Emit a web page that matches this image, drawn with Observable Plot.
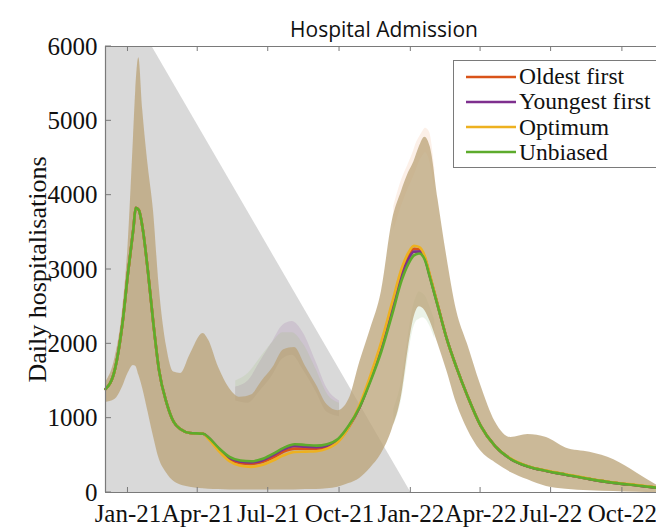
<!DOCTYPE html>
<html>
<head>
<meta charset="utf-8">
<script src="https://cdn.jsdelivr.net/npm/d3@7"></script>
<script src="https://cdn.jsdelivr.net/npm/@observablehq/plot@0.6"></script>
<style>
  html, body { margin: 0; padding: 0; background: #fff; overflow: hidden; }
  #wrap { position: relative; width: 656px; height: 530px; }
  #title { position: absolute; left: 234px; width: 300px; top: 15px; text-align: center;
           font-family: "Open Sans", sans-serif; font-size: 21px; color: #111; }
  #legend { position: absolute; left: 453px; top: 60px; width: 215px; height: 108px;
            border: 1px solid #7a7a7a; background: #fff; box-sizing: border-box; }
  .row { position: absolute; left: 12px; height: 25px; display: flex; align-items: center;
         font-family: "Liberation Serif", "Times New Roman", serif; font-size: 23.5px; color: #111; white-space: nowrap; }
  .row svg { margin-right: 3px; }
</style>
</head>
<body>
<div id="wrap">
  <div id="chart"></div>
  <div id="title">Hospital Admission</div>
  <div id="legend"></div>
</div>
<script>
// ---- data ----
const dates = ["2020-12-03","2020-12-15","2020-12-25","2021-01-01","2021-01-08","2021-01-11","2021-01-15","2021-01-20","2021-01-27",
  "2021-02-03","2021-02-10","2021-02-20","2021-03-01","2021-03-10","2021-03-22","2021-04-08","2021-04-15","2021-04-28",
  "2021-05-12","2021-05-26","2021-06-09","2021-06-23","2021-07-07","2021-07-21","2021-08-04","2021-08-18","2021-09-01",
  "2021-09-15","2021-09-29","2021-10-13","2021-10-27","2021-11-10","2021-11-24","2021-12-08","2021-12-20","2021-12-29",
  "2022-01-05","2022-01-12","2022-01-19","2022-01-26","2022-02-05","2022-02-16","2022-03-01","2022-03-15","2022-04-01",
  "2022-04-20","2022-05-10","2022-06-01","2022-06-25","2022-07-20","2022-08-20","2022-09-20","2022-10-20","2022-11-14"];

const unbiased = [1390,1650,2280,2950,3550,3830,3800,3550,2950,
  2250,1650,1200,950,850,800,790,740,600,
  480,430,420,450,520,600,650,640,630,
  650,720,900,1150,1500,1900,2400,2850,3080,
  3190,3215,3130,2880,2500,2080,1680,1300,900,
  620,450,350,290,240,180,130,95,65];

const oldestFirst = [1390,1650,2280,2950,3550,3830,3800,3550,2950,
  2250,1650,1200,950,850,800,790,735,580,
  450,395,385,410,470,550,590,590,590,
  610,690,880,1150,1530,1970,2500,2960,3180,
  3280,3270,3160,2900,2510,2080,1680,1300,900,
  620,450,350,290,240,180,130,95,65];

const youngestFirst = [1390,1650,2280,2950,3550,3830,3800,3550,2950,
  2250,1650,1200,950,850,800,790,738,590,
  465,415,405,430,500,580,625,615,610,
  630,705,890,1150,1520,1940,2460,2920,3140,
  3240,3240,3150,2890,2505,2080,1680,1300,900,
  620,450,350,290,240,180,130,95,65];

const optimum = [1390,1650,2280,2950,3550,3830,3800,3550,2950,
  2250,1650,1200,950,850,800,790,720,560,
  420,360,345,370,430,500,545,550,555,
  590,680,880,1180,1580,2030,2560,3010,3230,
  3320,3300,3180,2910,2510,2080,1680,1300,900,
  620,455,355,295,245,185,135,100,70];

const bandLow = [1210,1250,1420,1600,1710,1700,1580,1400,1080,
  750,460,260,150,100,70,50,45,40,
  35,35,35,35,35,35,35,40,40,
  50,70,120,190,330,520,850,1300,1950,
  2350,2500,2450,2300,2000,1650,1200,850,560,
  400,270,170,80,45,25,15,5,0];

const bandHigh = [1480,1800,2450,3300,4750,5400,5850,5150,4400,
  3780,2800,1950,1620,1600,1850,2140,2050,1680,
  1400,1280,1310,1500,1680,1920,1950,1700,1450,
  1180,1100,1250,1750,2200,2700,3650,4050,4300,
  4450,4650,4780,4650,3950,3200,2450,2000,1450,
  950,740,780,740,600,540,440,260,100];

// faint spread of individual strategies beyond the common band
const summerDates = ["2021-05-20","2021-06-05","2021-06-20","2021-07-05","2021-07-20","2021-08-01","2021-08-15","2021-09-01","2021-09-15","2021-10-01"];
const summerYoungestHigh = [1420,1500,1750,2000,2250,2300,2150,1750,1400,1230];
const summerUnbiasedHigh = [1500,1600,1800,2000,2150,2150,2000,1650,1330,1200];
const summerInner = [1230,1200,1360,1550,1800,1845,1650,1350,1080,1020];

const winterDates = ["2021-12-10","2021-12-20","2021-12-28","2022-01-03","2022-01-08","2022-01-12","2022-01-16","2022-01-20","2022-01-25","2022-02-01"];
const winterOptimumHigh = [3850,4200,4400,4550,4700,4780,4850,4900,4850,4350];
const winterInnerHigh = [3520,3850,4070,4210,4340,4450,4520,4570,4470,4050];
const winterUnbiasedLow = [900,1250,1780,2150,2300,2330,2350,2330,2250,2070];
const winterInnerLow = [1125,1500,2060,2450,2630,2700,2680,2640,2520,2320];

// grey shaded region
const shadeDates = ["2020-12-03","2021-02-01","2022-01-01"];
const shadeTop = [6000,6000,0];

const xTicks = ["2021-01-01","2021-04-01","2021-07-01","2021-10-01","2022-01-01","2022-04-01","2022-07-01","2022-10-01"];
const yTicks = [0,1000,2000,3000,4000,5000,6000];
const xDomain = ["2020-12-03","2022-11-14"];
const yDomain = [0,6000];

const seriesNames = ["Oldest first","Youngest first","Optimum","Unbiased"];
const seriesColors = ["#D95319","#7E2F8E","#EDB120","#5DAB2C"];
const seriesValues = [oldestFirst, youngestFirst, optimum, unbiased];

// ---- build tables ----
const P = d => new Date(d + "T00:00:00Z");
const band = dates.map((d,i) => ({date: P(d), lo: bandLow[i], hi: bandHigh[i]}));
const shade = shadeDates.map((d,i) => ({date: P(d), y: shadeTop[i]}));
const summer = summerDates.map((d,i) => ({date: P(d), base: summerInner[i], yh: summerYoungestHigh[i], uh: summerUnbiasedHigh[i]}));
const winter = winterDates.map((d,i) => ({date: P(d), bh: winterInnerHigh[i], oh: winterOptimumHigh[i], bl: winterInnerLow[i], ul: winterUnbiasedLow[i]}));
const lines = [];
seriesNames.forEach((name, s) => dates.forEach((d,i) => lines.push({series: name, date: P(d), value: seriesValues[s][i]})));
const xT = xTicks.map(P);
const x0 = P(xDomain[0]), x1 = P(xDomain[1]);
const fmt = d3.utcFormat("%b-%y");
const axisColor = "#7a7a7a";

const chart = Plot.plot({
  width: 656, height: 530,
  marginTop: 46, marginBottom: 38, marginLeft: 105, marginRight: 0,
  x: {type: "utc", domain: [x0, x1]},
  y: {type: "linear", domain: yDomain},
  color: {domain: seriesNames, range: seriesColors},
  style: {fontFamily: "Liberation Serif, serif", background: "#fff", color: "#111"},
  marks: [
    Plot.areaY(shade, {x: "date", y1: 0, y2: "y", fill: "#d9d9d9", curve: "linear"}),
    Plot.areaY(summer, {x: "date", y1: "base", y2: "yh", fill: "#7E2F8E", fillOpacity: 0.12, curve: "monotone-x"}),
    Plot.areaY(summer, {x: "date", y1: "base", y2: "uh", fill: "#77AC30", fillOpacity: 0.1, curve: "monotone-x"}),
    Plot.areaY(winter, {x: "date", y1: "bh", y2: "oh", fill: "#F2B48A", fillOpacity: 0.2, curve: "monotone-x"}),
    Plot.areaY(winter, {x: "date", y1: "ul", y2: "bl", fill: "#8FBF80", fillOpacity: 0.18, curve: "monotone-x"}),
    Plot.areaY(band, {x: "date", y1: "lo", y2: "hi", fill: "#baa378", fillOpacity: 0.76, curve: "monotone-x"}),
    Plot.line(lines, {x: "date", y: "value", z: "series", stroke: "series", strokeWidth: 2.6, curve: "monotone-x"}),
    // box lines
    Plot.ruleX([x0], {stroke: axisColor, strokeWidth: 1.2}),
    Plot.ruleY([yDomain[0], yDomain[1]], {stroke: axisColor, strokeWidth: 1.2}),
    Plot.axisX({ticks: xT, tickFormat: fmt, tickSize: 0, tickPadding: 12, fontSize: 25, label: null}),
    Plot.axisY({ticks: yTicks, tickFormat: d3.format("d"), tickSize: 0, tickPadding: 8, fontSize: 25, label: null}),
    Plot.text(["Daily hospitalisations"], {frameAnchor: "left", textAnchor: "middle", rotate: -90, dx: -68, text: d => d, fontSize: 26, fill: "#111"})
  ]
});
document.getElementById("chart").appendChild(chart);

// short inward tick marks, positioned through the chart's own scales
const sx = chart.scale("x"), sy = chart.scale("y");
const svg = d3.select(chart.tagName.toLowerCase() === "svg" ? chart : chart.querySelector("svg"));
const g = svg.append("g").attr("stroke", axisColor).attr("stroke-width", 1);
const yb = sy.apply(yDomain[0]), yt = sy.apply(yDomain[1]), xl = sx.apply(x0);
xT.forEach(d => {
  const x = sx.apply(d);
  g.append("line").attr("x1", x).attr("x2", x).attr("y1", yb).attr("y2", yb - 5);
  g.append("line").attr("x1", x).attr("x2", x).attr("y1", yt).attr("y2", yt + 5);
});
yTicks.forEach(v => {
  const y = sy.apply(v);
  g.append("line").attr("x1", xl).attr("x2", xl + 6).attr("y1", y).attr("y2", y);
});

// legend
const legend = document.getElementById("legend");
seriesNames.forEach((name, i) => {
  const row = document.createElement("div");
  row.className = "row";
  row.style.top = (3 + i * 25.3) + "px";
  row.innerHTML = `<svg width="50" height="6"><line x1="0" x2="50" y1="3" y2="3" stroke="${seriesColors[i]}" stroke-width="2.6"/></svg>${name}`;
  legend.appendChild(row);
});
</script>
</body>
</html>
